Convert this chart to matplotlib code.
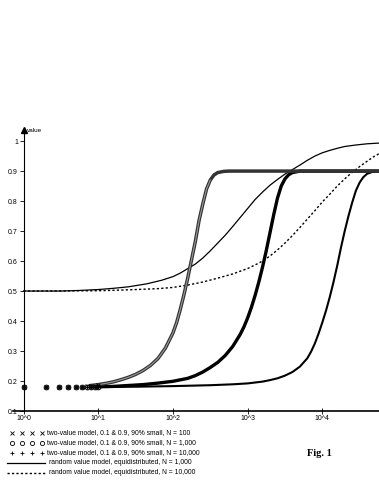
import numpy as np
import matplotlib
matplotlib.use("Agg")
import matplotlib.pyplot as plt

plt.rcParams['font.family'] = ['Liberation Sans', 'DejaVu Sans']

# --- data ---
# sparse part: individual markers at counts 1..10
counts_sparse = [1, 2, 3, 4, 5, 6, 7, 8, 9, 10]
y_n100_sparse = [0.18, 0.18, 0.18, 0.18, 0.18, 0.181, 0.182, 0.183, 0.185, 0.187]
y_n1000_sparse = [0.18, 0.18, 0.18, 0.18, 0.18, 0.18, 0.18, 0.18, 0.18, 0.18]
y_n10000_sparse = [0.18, 0.18, 0.18, 0.18, 0.18, 0.18, 0.18, 0.18, 0.18, 0.18]

# dense part, x given in decades (log10 of the count)
dec_n100 = [0.9, 1.0, 1.1, 1.2, 1.3, 1.4, 1.5, 1.6, 1.7, 1.8, 1.9, 2.0, 2.05,
            2.1, 2.15, 2.2, 2.25, 2.3, 2.35, 2.4, 2.45, 2.5, 2.55, 2.6, 2.68,
            2.75, 4.8]
y_n100 = [0.185, 0.188, 0.192, 0.197, 0.204, 0.212, 0.222, 0.235, 0.252, 0.275,
          0.31, 0.36, 0.395, 0.44, 0.49, 0.545, 0.605, 0.665, 0.735, 0.79,
          0.84, 0.87, 0.887, 0.895, 0.899, 0.90, 0.90]

dec_n1000 = [0.9, 1.2, 1.4, 1.6, 1.8, 2.0, 2.2, 2.3, 2.4, 2.5, 2.6, 2.7, 2.8,
             2.9, 2.95, 3.0, 3.05, 3.1, 3.15, 3.2, 3.25, 3.3, 3.35, 3.4, 3.45,
             3.5, 3.55, 3.6, 3.7, 4.8]
y_n1000 = [0.18, 0.182, 0.185, 0.188, 0.193, 0.199, 0.209, 0.218, 0.23, 0.245,
           0.262, 0.285, 0.315, 0.355, 0.38, 0.41, 0.445, 0.485, 0.53, 0.58,
           0.635, 0.695, 0.755, 0.81, 0.85, 0.874, 0.888, 0.895, 0.90, 0.90]

dec_n10000 = [0.9, 1.5, 2.0, 2.5, 2.8, 3.0, 3.2, 3.3, 3.4, 3.5, 3.6, 3.7, 3.8,
              3.85, 3.9, 3.95, 4.0, 4.05, 4.1, 4.15, 4.2, 4.25, 4.3, 4.35, 4.4,
              4.45, 4.5, 4.55, 4.6, 4.68, 4.8]
y_n10000 = [0.18, 0.181, 0.183, 0.186, 0.189, 0.192, 0.198, 0.203, 0.209, 0.218,
            0.23, 0.248, 0.276, 0.298, 0.325, 0.358, 0.395, 0.435, 0.48, 0.53,
            0.585, 0.645, 0.70, 0.75, 0.795, 0.835, 0.862, 0.88, 0.891, 0.898,
            0.90]

dec_rand1000 = [0.0, 0.5, 0.75, 1.0, 1.2, 1.4, 1.65, 1.85, 2.0, 2.1, 2.2, 2.3,
                2.4, 2.5, 2.6, 2.7, 2.8, 2.9, 3.0, 3.1, 3.2, 3.3, 3.4, 3.5, 3.6,
                3.7, 3.8, 3.9, 4.0, 4.1, 4.2, 4.3, 4.45, 4.6, 4.8]
y_rand1000 = [0.5, 0.5, 0.502, 0.505, 0.509, 0.514, 0.524, 0.536, 0.548, 0.56,
              0.575, 0.59, 0.61, 0.634, 0.66, 0.686, 0.715, 0.745, 0.775, 0.805,
              0.83, 0.853, 0.872, 0.89, 0.905, 0.92, 0.936, 0.95, 0.961, 0.969,
              0.976, 0.982, 0.987, 0.991, 0.994]

dec_rand10000 = [0.0, 1.0, 1.4, 1.8, 2.0, 2.2, 2.4, 2.6, 2.8, 3.0, 3.1, 3.2,
                 3.3, 3.4, 3.5, 3.6, 3.7, 3.8, 3.9, 4.0, 4.1, 4.2, 4.3, 4.4,
                 4.5, 4.6, 4.7, 4.8]
y_rand10000 = [0.5, 0.501, 0.504, 0.508, 0.512, 0.52, 0.53, 0.543, 0.557, 0.575,
               0.587, 0.60, 0.617, 0.637, 0.66, 0.685, 0.712, 0.74, 0.768, 0.797,
               0.823, 0.85, 0.874, 0.896, 0.915, 0.933, 0.95, 0.963]

y_ticks = [0.1, 0.2, 0.3, 0.4, 0.5, 0.6, 0.7, 0.8, 0.9, 1.0]
y_labels = ["0.1", "0.2", "0.3", "0.4", "0.5", "0.6", "0.7", "0.8", "0.9", "1"]
x_ticks = [1, 10, 100, 1000, 10000]
x_labels = ["10^0", "10^1", "10^2", "10^3", "10^4"]

legend_labels = [
    "two-value model, 0.1 & 0.9, 90% small, N = 100",
    "two-value model, 0.1 & 0.9, 90% small, N = 1,000",
    "two-value model, 0.1 & 0.9, 90% small, N = 10,000",
    "random value model, equidistributed, N = 1,000",
    "random value model, equidistributed, N = 10,000",
]

W, H = 379, 491
fig = plt.figure(figsize=(W / 100, H / 100), dpi=100)
fig.patch.set_facecolor('white')

# axes box in pixels: left 13, right 379, bottom 411, top 130
ax = fig.add_axes([13 / W, 1 - 411 / H, (W - 13) / W, (411 - 130) / H])
ax.set_xscale('log')
ax.set_xlim(10 ** -0.1406, 10 ** 4.759)
ax.set_ylim(0.1, 1.037)


def dec(d):
    return 10 ** np.asarray(d, float)


DASH = (0, (1.6, 1.6))
ax.plot(dec(dec_rand1000), y_rand1000, color='black', lw=0.9, zorder=2)
ax.plot(dec(dec_rand10000), y_rand10000, color='black', lw=1.0, ls=DASH, zorder=2)

ax.plot(dec(dec_n10000), y_n10000, color='black', lw=1.5, zorder=3)
ax.plot(dec(dec_n1000), y_n1000, color='black', lw=2.4, zorder=3)
ax.plot(dec(dec_n100), y_n100, color='0.2', lw=2.5, zorder=3.2)
# lighter core on the rising part of the N = 100 band (open markers)
rise = np.asarray(y_n100) < 0.885
ax.plot(dec(dec_n100)[rise], np.asarray(y_n100)[rise], color='0.6', lw=0.8,
        zorder=3.3)

for ys, m in [(y_n100_sparse, 'x'), (y_n1000_sparse, 'o'), (y_n10000_sparse, '+')]:
    ax.plot(counts_sparse, ys, ls='none', marker=m, ms=3.4, mfc='none',
            mec='black', mew=0.7, zorder=4, clip_on=False)

# axis styling
for s in ['top', 'right']:
    ax.spines[s].set_visible(False)
ax.spines['left'].set_position(('data', 1))
ax.spines['left'].set_linewidth(0.8)
ax.spines['bottom'].set_linewidth(1.2)
ax.set_yticks(y_ticks)
ax.set_yticklabels(y_labels)
ax.set_xticks(x_ticks)
ax.set_xticklabels(x_labels)
ax.xaxis.set_minor_locator(matplotlib.ticker.NullLocator())
ax.tick_params(axis='y', direction='out', length=3, width=0.6, pad=1,
               labelsize=5, colors='black')
ax.tick_params(axis='x', direction='inout', length=4, width=0.6, pad=1,
               labelsize=5, colors='black')
ax.plot([1], [1.037], marker='^', ms=4, color='black', clip_on=False, zorder=5)
ax.text(1.13, 1.037, "value", fontsize=4.6, va='center', ha='left')

# legend drawn in pixel coordinates below the plot
lg = fig.add_axes([0, 0, 1, 1])
lg.set_xlim(0, W)
lg.set_ylim(H, 0)
lg.axis('off')
row_y = [433, 443, 453, 463, 473]
marker_x = [12, 22, 32, 42]
for m, yy in zip(['x', 'o', '+'], row_y[:3]):
    lg.plot(marker_x, [yy] * 4, ls='none', marker=m, ms=3.0, mfc='none',
            mec='black', mew=0.6)
lg.plot([7, 45], [row_y[3]] * 2, color='black', lw=0.9)
lg.plot([7, 45], [row_y[4]] * 2, color='black', lw=1.0, ls=DASH)
for i, (lab, yy) in enumerate(zip(legend_labels, row_y)):
    lg.text(47 if i < 3 else 49, yy, lab, fontsize=4.9, va='center', ha='left')
lg.text(307, 453, "Fig. 1", fontsize=7.5, fontweight='bold',
        family=['Liberation Serif', 'DejaVu Serif'], va='center', ha='left')

fig.savefig("out.png", dpi=100)
